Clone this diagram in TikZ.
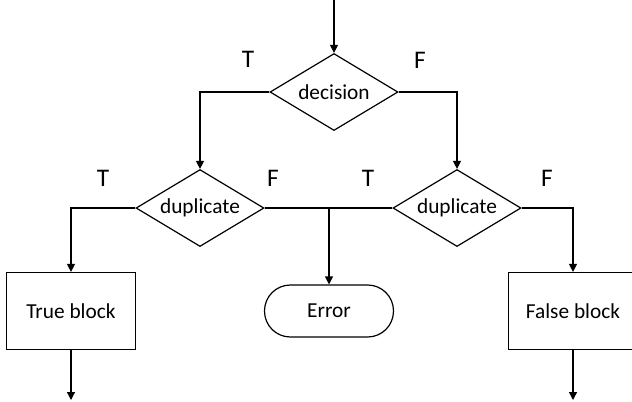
\documentclass[tikz,border=0pt]{standalone}
\usepackage{fontspec}
\setmainfont{Carlito}
\usepackage{tikz}
\usetikzlibrary{arrows.meta,positioning,shapes.geometric}
\tikzset{
  choice/.style={
    diamond, draw=black, line width=0.9pt, inner sep=0pt,
    shape aspect=1.66, minimum width=96pt, minimum height=57.75pt
  },
  blockbox/.style={
    rectangle, draw=black, line width=0.9pt,
    minimum width=96.75pt, minimum height=57.75pt
  },
  stopbox/.style={
    rectangle, rounded corners=19.4pt, draw=black, line width=0.9pt,
    minimum width=96.75pt, minimum height=39pt
  },
  branch/.style={font=\fontsize{19}{22}\selectfont, inner sep=0pt},
  flowarrow/.style={-{Triangle[length=6pt,width=6pt]}, line width=0.9pt, color=black},
}

\begin{document}
\begin{tikzpicture}[x=0.75pt, y=-0.75pt, font=\fontsize{16}{19}\selectfont]
  \useasboundingbox (0,0) rectangle (632,401);
  % decisions
  \node[choice] (decision) at (334,92) {decision};
  \node[choice] (dupL) at (200,208) {duplicate};
  \node[choice] (dupR) at (457,208) {duplicate};
  % blocks
  \node[blockbox] (trueB) at (71,311) {True block};
  \node[stopbox] (errorN) at (329,311) {Error};
  \node[blockbox] (falseB) at (573,311) {False block};
  % free ends
  \coordinate (start) at (334,0);
  \coordinate (endT) at (71,400);
  \coordinate (endF) at (573,400);
  % branch labels
  \node[branch] (tA) at (248,59) {T};
  \node[branch] (fA) at (420,60) {F};
  \node[branch] (tB) at (103,178) {T};
  \node[branch] (fB) at (273,178) {F};
  \node[branch] (tC) at (368,178) {T};
  \node[branch] (fC) at (547,178) {F};
  % connectors
  \draw[flowarrow] (start) -- (decision);
  \foreach \a/\b in {decision.west/dupL.north,decision.east/dupR.north,dupL.west/trueB.north,dupR.east/falseB.north}
    \draw[flowarrow] (\a) -| (\b);
  \draw[line width=0.9pt] (dupL.east) -- (dupR.west);
  \draw[flowarrow] (errorN.north |- dupL.east) -- (errorN);
  \draw[flowarrow] (trueB) -- (endT);
  \draw[flowarrow] (falseB) -- (endF);
\end{tikzpicture}
\end{document}
